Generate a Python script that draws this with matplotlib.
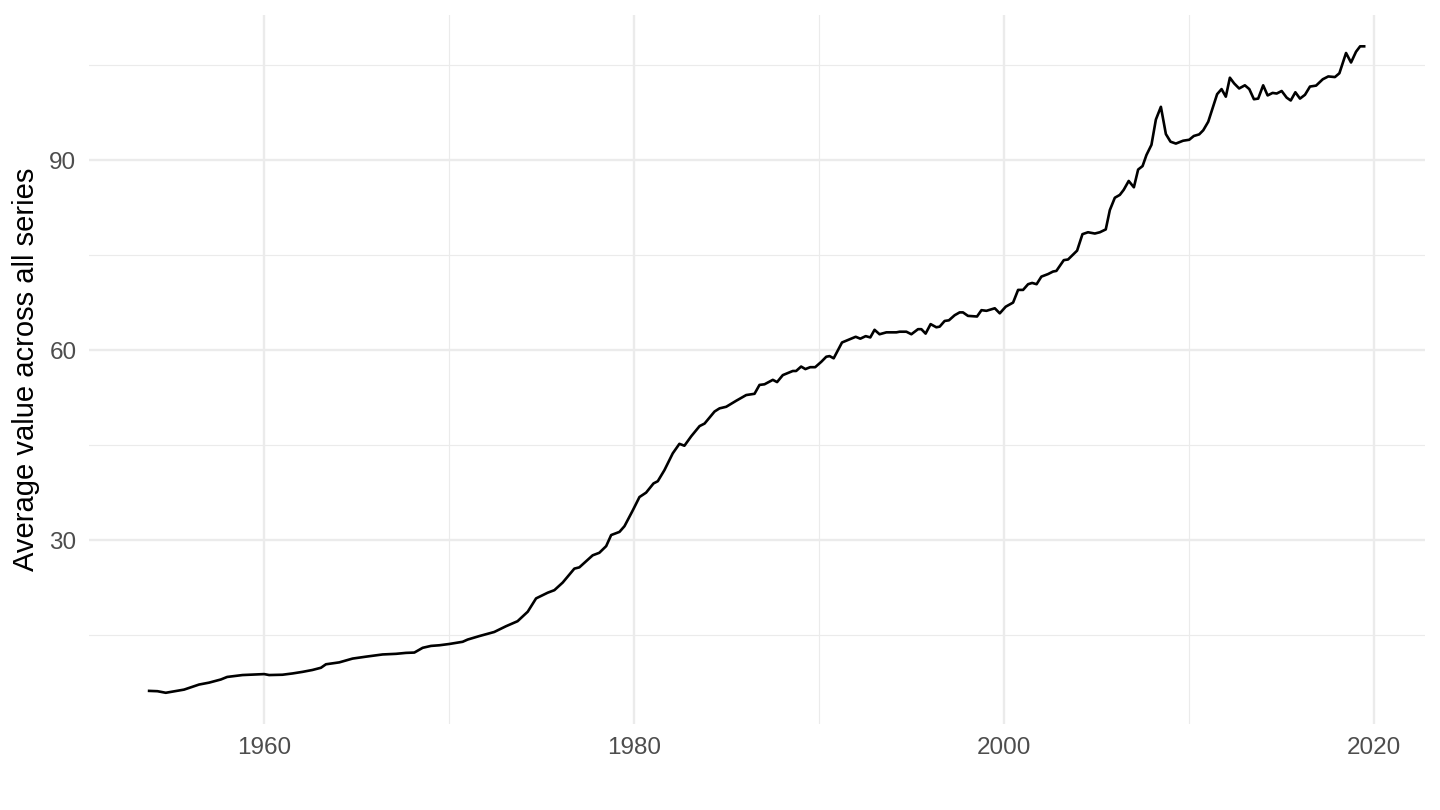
import matplotlib
matplotlib.use('Agg')
import matplotlib.pyplot as plt
from matplotlib.ticker import MultipleLocator

# Average value across all series (approx. quarterly)
years = [1953.78, 1954.23, 1954.68, 1955.67, 1956.48, 1957.02, 1957.66, 1958.00, 1958.83,
         1960.00, 1960.27, 1960.99, 1961.53, 1962.07, 1962.61, 1963.07, 1963.34, 1964.06,
         1964.78, 1965.50, 1966.40, 1967.13, 1967.67, 1968.12, 1968.57, 1969.02, 1969.47,
         1970.00, 1970.73, 1971.00, 1971.63, 1972.44, 1973.07, 1973.70, 1974.25, 1974.70,
         1975.33, 1975.69, 1976.14, 1976.77, 1977.04, 1977.76, 1978.12, 1978.49, 1978.76,
         1979.21, 1979.48, 1979.93, 1980.29, 1980.65, 1981.05, 1981.28, 1981.64, 1982.09,
         1982.45, 1982.72, 1983.09, 1983.54, 1983.81, 1984.35, 1984.62, 1984.98, 1985.52,
         1986.06, 1986.51, 1986.78, 1987.05, 1987.50, 1987.73, 1988.04, 1988.58, 1988.76,
         1989.03, 1989.26, 1989.52, 1989.79, 1990.12, 1990.39, 1990.57, 1990.79, 1991.24,
         1991.65, 1991.98, 1992.23, 1992.52, 1992.77, 1993.00, 1993.27, 1993.64, 1994.18,
         1994.36, 1994.72, 1994.99, 1995.35, 1995.53, 1995.76, 1996.03, 1996.34, 1996.52,
         1996.79, 1997.02, 1997.33, 1997.60, 1997.78, 1998.05, 1998.54, 1998.78, 1999.05,
         1999.50, 1999.77, 2000.09, 2000.49, 2000.76, 2001.03, 2001.30, 2001.52, 2001.76,
         2002.02, 2002.38, 2002.65, 2002.83, 2003.23, 2003.46, 2003.95, 2004.24, 2004.54,
         2004.91, 2005.18, 2005.50, 2005.72, 2005.99, 2006.26, 2006.47, 2006.74, 2007.02,
         2007.25, 2007.49, 2007.70, 2007.97, 2008.21, 2008.48, 2008.75, 2009.00, 2009.29,
         2009.68, 2010.01, 2010.26, 2010.55, 2010.77, 2011.04, 2011.31, 2011.52, 2011.76,
         2011.99, 2012.21, 2012.44, 2012.71, 2013.02, 2013.26, 2013.51, 2013.74, 2014.01,
         2014.25, 2014.52, 2014.74, 2015.01, 2015.28, 2015.50, 2015.75, 2016.00, 2016.27,
         2016.54, 2016.87, 2017.23, 2017.53, 2017.89, 2018.13, 2018.49, 2018.76, 2019.03,
         2019.25, 2019.47]

values = [6.2, 6.15, 5.9, 6.4, 7.2, 7.5, 8.0, 8.4, 8.7,
          8.85, 8.7, 8.75, 8.95, 9.2, 9.5, 9.85, 10.4, 10.7,
          11.3, 11.6, 11.95, 12.05, 12.2, 12.25, 13.0, 13.3, 13.4,
          13.6, 13.95, 14.3, 14.85, 15.5, 16.4, 17.2, 18.7, 20.8,
          21.7, 22.1, 23.3, 25.5, 25.7, 27.6, 28.0, 29.05, 30.8,
          31.3, 32.2, 34.7, 36.8, 37.5, 38.95, 39.3, 41.05, 43.7,
          45.2, 44.9, 46.4, 48.0, 48.4, 50.3, 50.8, 51.05, 52.0,
          52.9, 53.1, 54.5, 54.6, 55.3, 54.95, 56.05, 56.7, 56.7,
          57.4, 57.0, 57.3, 57.3, 58.15, 58.95, 59.05, 58.7, 61.2,
          61.7, 62.1, 61.8, 62.2, 62.0, 63.2, 62.5, 62.8, 62.8,
          62.9, 62.9, 62.5, 63.3, 63.3, 62.6, 64.1, 63.6, 63.7,
          64.6, 64.7, 65.5, 65.95, 65.95, 65.4, 65.3, 66.3, 66.2,
          66.6, 65.8, 66.85, 67.5, 69.5, 69.5, 70.4, 70.6, 70.4,
          71.6, 72.0, 72.4, 72.5, 74.2, 74.3, 75.7, 78.3, 78.6,
          78.4, 78.6, 79.05, 82.1, 84.05, 84.5, 85.3, 86.7, 85.7,
          88.5, 89.05, 90.8, 92.4, 96.4, 98.4, 94.1, 92.9, 92.6,
          93.05, 93.2, 93.8, 94.05, 94.7, 96.05, 98.5, 100.4, 101.2,
          100.0, 103.0, 102.1, 101.3, 101.8, 101.2, 99.6, 99.7, 101.8,
          100.2, 100.6, 100.5, 100.9, 99.85, 99.4, 100.7, 99.7, 100.3,
          101.6, 101.75, 102.75, 103.2, 103.1, 103.7, 106.9, 105.4, 107.1,
          107.95, 107.95]

x_major = [1960, 1980, 2000, 2020]
y_major = [30, 60, 90]

plt.rcParams['font.family'] = ['Liberation Sans', 'DejaVu Sans']

fig = plt.figure(figsize=(14.4, 8.1), dpi=100)
ax = fig.add_axes([0.0618, 0.106, 0.9278, 0.8755])

ax.plot(years, values, color='black', linewidth=1.9, zorder=3)

ax.set_xlim(1950.53, 2022.76)
ax.set_ylim(0.95, 112.9)

ax.set_xticks(x_major)
ax.set_yticks(y_major)
ax.xaxis.set_minor_locator(MultipleLocator(10))
ax.yaxis.set_minor_locator(MultipleLocator(15))

# theme_minimal look
ax.grid(which='major', color='#EBEBEB', linewidth=1.7)
ax.grid(which='minor', color='#EBEBEB', linewidth=0.85)
ax.set_axisbelow(True)
for s in ax.spines.values():
    s.set_visible(False)
ax.tick_params(which='both', length=0)
ax.tick_params(axis='both', labelsize=17.5, labelcolor='#4D4D4D', pad=9)

ax.set_ylabel('Average value across all series', fontsize=21, color='black')
ax.yaxis.set_label_coords(-0.0365, 0.5)

fig.savefig('out.png', dpi=100, facecolor='white')
